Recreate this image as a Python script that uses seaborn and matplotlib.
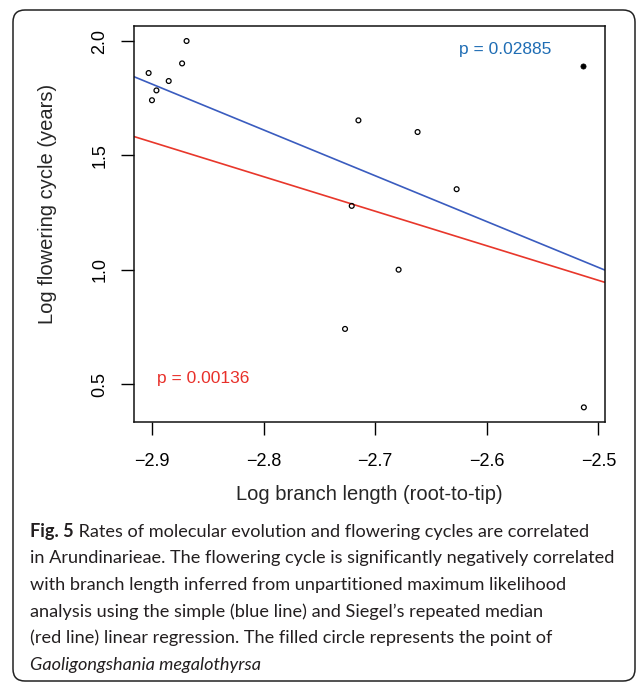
import matplotlib
matplotlib.use("Agg")
import matplotlib.pyplot as plt
import matplotlib.transforms as mtrans
from matplotlib.patches import FancyBboxPatch
import seaborn as sns
import pandas as pd

# ---- data ----
branch_open = [-2.903, -2.869, -2.873, -2.885, -2.896, -2.900, -2.715,
               -2.721, -2.662, -2.627, -2.679, -2.727, -2.513]
cycle_open = [1.860, 2.000, 1.902, 1.825, 1.784, 1.741, 1.653,
              1.279, 1.602, 1.352, 1.000, 0.741, 0.398]
branch_filled = [-2.514]
cycle_filled = [1.892]

ols_fit = [-4.000, -2.004]       # intercept, slope (blue, simple regression)
siegel_fit = [-2.824, -1.511]    # intercept, slope (red, Siegel repeated median)

p_ols = "p = 0.02885"
p_siegel = "p = 0.00136"

x_ticks = [-2.9, -2.8, -2.7, -2.6, -2.5]
x_ticklabels = ["\u22122.9", "\u22122.8", "\u22122.7", "\u22122.6", "\u22122.5"]
y_ticks = [0.5, 1.0, 1.5, 2.0]
y_ticklabels = ["0.5", "1.0", "1.5", "2.0"]

xlabel = "Log branch length (root-to-tip)"
ylabel = "Log flowering cycle (years)"

caption_bold = "Fig. 5"
caption_lines = [
    " Rates of molecular evolution and flowering cycles are correlated",
    "in Arundinarieae. The flowering cycle is significantly negatively correlated",
    "with branch length inferred from unpartitioned maximum likelihood",
    "analysis using the simple (blue line) and Siegel\u2019s repeated median",
    "(red line) linear regression. The filled circle represents the point of",
]
caption_italic = "Gaoligongshania megalothyrsa"

df_open = pd.DataFrame({"x": branch_open, "y": cycle_open})
df_filled = pd.DataFrame({"x": branch_filled, "y": cycle_filled})

# ---- figure ----
sns.set_style("white")
plt.rcParams["font.family"] = ["Liberation Sans", "DejaVu Sans"]

W, H = 637, 683
fig = plt.figure(figsize=(W / 100, H / 100), dpi=100)
fig.patch.set_facecolor("white")

ax_l, ax_r, ax_t, ax_b = 134, 604.5, 26, 422
ax = fig.add_axes([ax_l / W, 1 - ax_b / H, (ax_r - ax_l) / W, (ax_b - ax_t) / H])

sns.scatterplot(data=df_open, x="x", y="y", ax=ax, marker="o", s=12,
                facecolor="none", edgecolor="black", linewidth=0.9, zorder=3)
sns.scatterplot(data=df_filled, x="x", y="y", ax=ax, marker="o", s=14,
                color="black", edgecolor="black", linewidth=0.5, zorder=3)

ax.axline((0, ols_fit[0]), slope=ols_fit[1], color="#3a5cbf", lw=1.2, zorder=2)
ax.axline((0, siegel_fit[0]), slope=siegel_fit[1], color="#e8372b", lw=1.2, zorder=2)

ax.set_xlim(-2.9161, -2.4945)
ax.set_ylim(0.334, 2.0656)

ax.set_xticks(x_ticks)
ax.set_xticklabels(x_ticklabels)
ax.set_yticks(y_ticks)
ax.set_yticklabels(y_ticklabels, rotation=90, va="center")

ax.tick_params(axis="both", direction="out", length=9.4, width=1.0,
               color="black", labelsize=13, labelcolor="black")
ax.tick_params(axis="x", pad=13)
ax.tick_params(axis="y", pad=9)
ax.tick_params(bottom=True, left=True)

for sp in ax.spines.values():
    sp.set_visible(True)
    sp.set_color("#111111")
    sp.set_linewidth(1.1)

ax.set_xlabel(xlabel, fontsize=14.5)
ax.set_ylabel(ylabel, fontsize=14.5, va="center")
ax.xaxis.set_label_coords(0.5, (ax_b - 495) / (ax_b - ax_t))
ax.xaxis.label.set_va("center")
ax.yaxis.set_label_coords((48 - ax_l) / (ax_r - ax_l), (ax_b - 204) / (ax_b - ax_t))

ax.text((505 - ax_l) / (ax_r - ax_l), (ax_b - 49.5) / (ax_b - ax_t), p_ols,
        transform=ax.transAxes, ha="center", va="center", fontsize=12.5,
        color="#1f6db4")
ax.text((203.5 - ax_l) / (ax_r - ax_l), (ax_b - 379) / (ax_b - ax_t), p_siegel,
        transform=ax.transAxes, ha="center", va="center", fontsize=12.5,
        color="#e8302a")

# ---- rounded frame ----
ident = mtrans.IdentityTransform()
box = FancyBboxPatch((13, 2), 635 - 13, 673 - 2,
                     boxstyle="round,pad=0,rounding_size=12",
                     transform=ident, facecolor="none", edgecolor="#222222",
                     linewidth=1.1)
fig.add_artist(box)

# ---- caption ----
cap_font = ["Lato", "DejaVu Sans"]
cap_size = 13.05
cap_x = 30
baselines = [536.7, 563.3, 590.0, 616.6, 643.2, 669.8]
cap_color = "#231f20"

renderer = fig.canvas.get_renderer()
tb = fig.text(cap_x / W, 1 - baselines[0] / H, caption_bold, family=cap_font,
              fontsize=cap_size, weight="bold", va="baseline", ha="left",
              color=cap_color)
bb = tb.get_window_extent(renderer=renderer)
fig.text(bb.x1 / W, 1 - baselines[0] / H, caption_lines[0], family=cap_font,
         fontsize=cap_size, va="baseline", ha="left", color=cap_color)
for line, yb in zip(caption_lines[1:], baselines[1:5]):
    fig.text(cap_x / W, 1 - yb / H, line, family=cap_font, fontsize=cap_size,
             va="baseline", ha="left", color=cap_color)
fig.text(cap_x / W, 1 - baselines[5] / H, caption_italic, family=cap_font,
         fontsize=cap_size, style="italic", va="baseline", ha="left",
         color=cap_color)

fig.savefig("out.png", dpi=100)
